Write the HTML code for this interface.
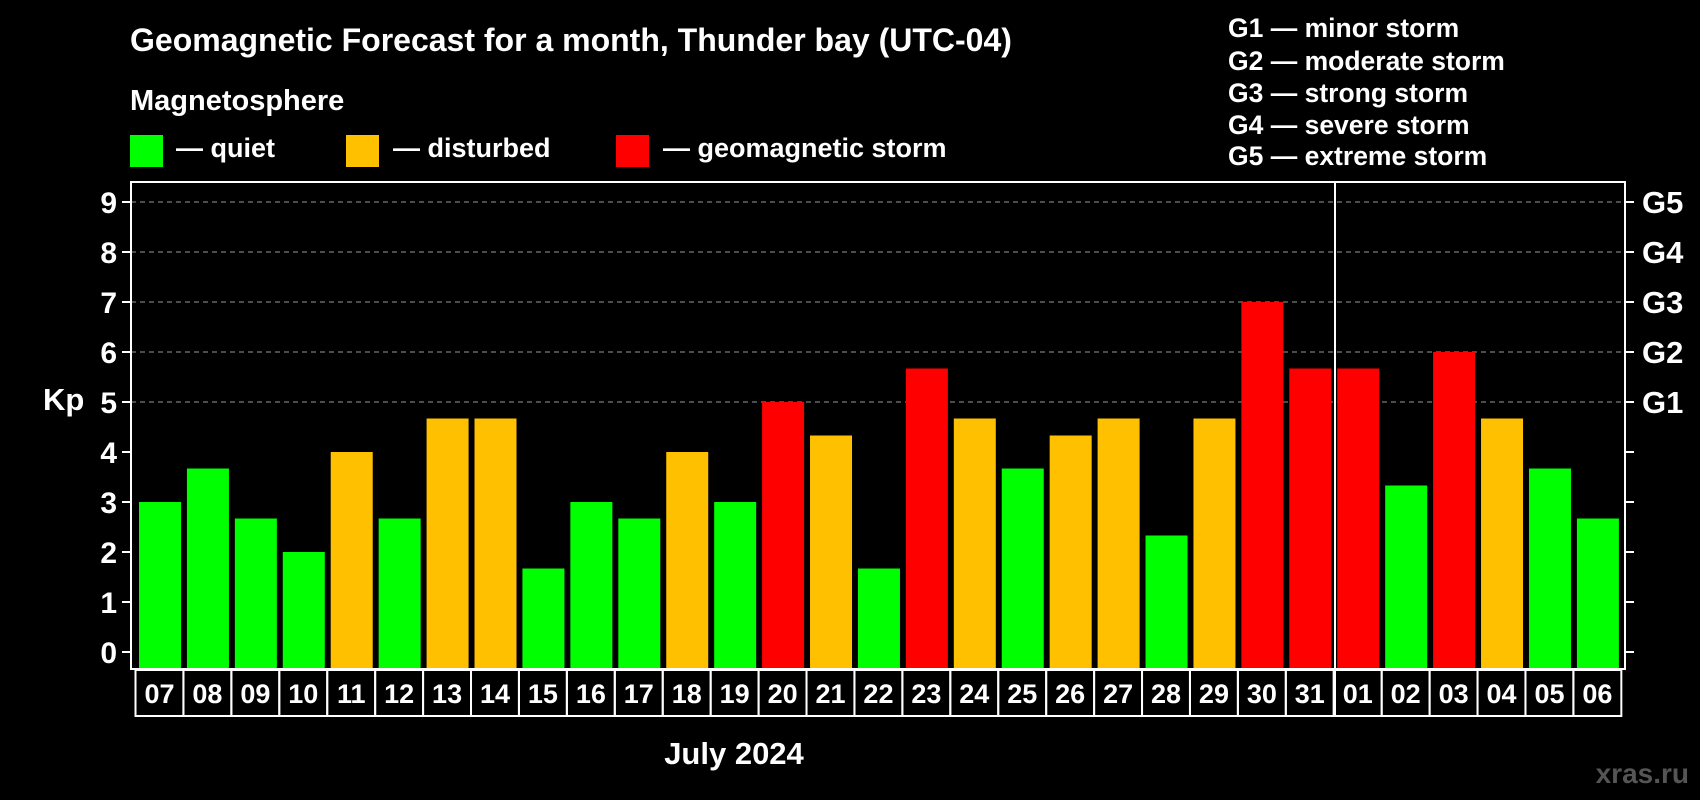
<!DOCTYPE html>
<html><head><meta charset="utf-8"><style>
html,body{margin:0;padding:0;background:#000;width:1700px;height:800px;overflow:hidden}
svg{display:block;font-family:"Liberation Sans",Arial,sans-serif;font-weight:bold}
</style></head><body>
<svg id="chart" width="1700" height="800" viewBox="0 0 1700 800">
<text x="130" y="51" fill="#fff" font-size="32">Geomagnetic Forecast for a month, Thunder bay (UTC-04)</text>
<text x="130" y="110" fill="#fff" font-size="29">Magnetosphere</text>
<rect x="130" y="135" width="33" height="32" fill="#00ff00"/>
<text x="176" y="157" fill="#fff" font-size="27">— quiet</text>
<rect x="346" y="135" width="33" height="32" fill="#ffc000"/>
<text x="393" y="157" fill="#fff" font-size="27">— disturbed</text>
<rect x="616" y="135" width="33" height="32" fill="#ff0000"/>
<text x="663" y="157" fill="#fff" font-size="27">— geomagnetic storm</text>
<g fill="#fff" font-size="26.5">
<text x="1228" y="37">G1 — minor storm</text>
<text x="1228" y="70">G2 — moderate storm</text>
<text x="1228" y="102">G3 — strong storm</text>
<text x="1228" y="134">G4 — severe storm</text>
<text x="1228" y="165">G5 — extreme storm</text>
</g>
<text x="43" y="410" fill="#fff" font-size="31">Kp</text>
<text x="734" y="764" fill="#fff" font-size="31" text-anchor="middle">July 2024</text>
<text x="1689" y="783" fill="#555" font-size="28" text-anchor="end">xras.ru</text>
<g id="grid"></g><g id="bars"></g><g id="axes"></g>
</svg>
<script>
const days=["07","08","09","10","11","12","13","14","15","16","17","18","19","20","21","22","23","24","25","26","27","28","29","30","31","01","02","03","04","05","06"];
const kp=[3,3.67,2.67,2,4,2.67,4.67,4.67,1.67,3,2.67,4,3,5,4.33,1.67,5.67,4.67,3.67,4.33,4.67,2.33,4.67,7,5.67,5.67,3.33,6,4.67,3.67,2.67];
const yTicks=[0,1,2,3,4,5,6,7,8,9];
const gLabels=["G1","G2","G3","G4","G5"];
const gLevels=[5,6,7,8,9];
(function(){
const NS="http://www.w3.org/2000/svg";
const pL=131,pR=1625,pT=182,pB=669;
const y=v=>652-v*50;
const x=i=>139+i*47.93;
const bw=42;
function mk(t,a,p){const e=document.createElementNS(NS,t);for(const k in a)e.setAttribute(k,a[k]);p.appendChild(e);return e;}
const grid=document.getElementById('grid'),bars=document.getElementById('bars'),axes=document.getElementById('axes');
gLevels.forEach((v)=>{
  const l=mk('line',{x1:pL,x2:pR,y1:y(v),y2:y(v),stroke:'#999','stroke-dasharray':'5,4','stroke-width':1},grid);
  
  
});
kp.forEach((v,i)=>{
  const c=v>=5?'#ff0000':(v>=4?'#ffc000':'#00ff00');
  const r=mk('rect',{x:x(i),y:y(v),width:bw,height:pB-y(v)-1,fill:c},bars);
  
  
});
mk('rect',{x:pL,y:pT,width:pR-pL,height:pB-pT,fill:'none',stroke:'#fff','stroke-width':2},axes);
yTicks.forEach(v=>{
  mk('line',{x1:122,x2:pL,y1:y(v),y2:y(v),stroke:'#fff','stroke-width':2},axes);
  mk('line',{x1:pR,x2:1634,y1:y(v),y2:y(v),stroke:'#fff','stroke-width':2},axes);
  const t=mk('text',{x:117,y:y(v)+11,fill:'#fff','font-size':30,'text-anchor':'end'},axes);
  t.textContent=v;
  
  
});
gLabels.forEach((g,i)=>{
  const t=mk('text',{x:1642,y:y(gLevels[i])+11,fill:'#fff','font-size':31},axes);
  t.textContent=g;
  
  
});
days.forEach((d,i)=>{
  const bx=135.5+i*47.93;
  const r=mk('rect',{x:bx,y:670,width:47.93,height:46,fill:'none',stroke:'#fff','stroke-width':2},axes);
  
  
  const t=mk('text',{x:bx+24,y:703,fill:'#fff','font-size':27,'text-anchor':'middle'},axes);
  t.textContent=d;
  
  
});
const sep=mk('line',{x1:1335,x2:1335,y1:pT,y2:716,stroke:'#fff','stroke-width':2},axes);


})();
</script>
</body></html>
